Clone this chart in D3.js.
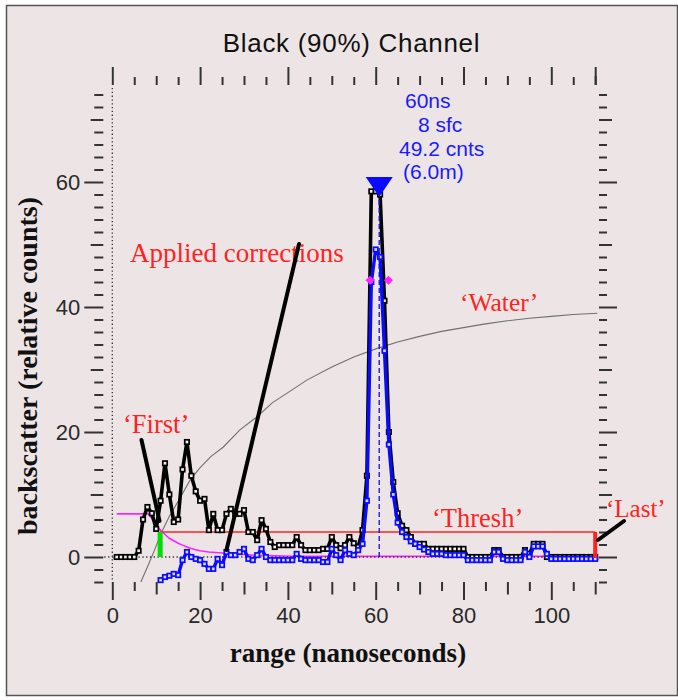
<!DOCTYPE html>
<html>
<head>
<meta charset="utf-8">
<script src="https://cdn.jsdelivr.net/npm/d3@7"></script>
<style>
  html, body { margin: 0; padding: 0; background: #ffffff; }
  svg { display: block; }
</style>
</head>
<body>
<svg id="chart" width="678" height="700"></svg>
<script>
// ---- data -------------------------------------------------------------
const chartTitle = "Black (90%) Channel";
const xTickLabels = [0, 20, 40, 60, 80, 100];
const yTickLabels = [0, 20, 40, 60];

// raw waveform, one sample per ns starting at 1 ns
const rawStartNs = 1;
const rawCounts = [
  0, 0, 0, 0, 0,        1, 6, 8, 7, 4.5,
  9, 15, 10, 5.6, 6,    14, 18.4, 13, 10.5, 9,
  9.3, 4.3, 6.9, 4.3, 4.3,  6.9, 7.7, 6.9, 6.9, 7.5,
  4, 4, 2.7, 5.9, 4.5,  2.4, 1.6, 1.9, 1.9, 1.9,
  1.9, 3.2, 1.9, 1.1, 1.1,  1.1, 1.1, 1.3, 1.3, 3.2,
  1.9, 1.4, 1.9, 3.2, 2.2,  1.6, 4.3, 13, 58.5, 58.5,
  58, 41, 20, 12, 7,    5, 4.3, 3.2, 2.1, 2.1,
  2.1, 1.3, 1.3, 1.3, 1.3,  1.3, 1.3, 1.3, 1.3, 1.3,
  0, 0, 0, 0, 0,        0, 1.1, 1.1, 0, 0,
  0, 0, 0, 1.1, 0.5,    2.1, 2.1, 2.1, 0, 0,
  0, 0, 0, 0, 0,        0, 0, 0, 0, 0
];

// corrected waveform, starting at the 'First' sample
const correctedStartNs = 11;
const correctedCounts = [
  -3.7, -3.2, -3.0, -2.7, -2.9,  -0.5, 0.8, 0, -0.3, -0.5,
  -1.1, -1.9, -1.9, -0.3, -1.3,  0.8, 0.3, 0.3, 0.8, 1.3,
  -0.3, -0.5, 0.3, 1.3, 0,       -0.5, -0.5, -0.5, -0.5, -0.5,
  -0.5, 0.5, -0.3, -0.5, -0.5,   -0.5, -0.5, -0.8, -0.8, 1.3,
  0.3, -0.5, 1.1, 0.5, 0.3,      1.1, 2.1, 9, 44, 49.2,
  48, 33, 18, 10, 5.5,           4, 3.2, 2.5, 2.1, 1.6,
  1.2, 0.8, 0.5, 0.5, 0.5,       0.3, 0.3, 0.3, 0.3, 0.3,
  -0.5, -0.5, -0.5, -0.5, -0.5,  -0.5, 0.8, 0.8, -0.3, -0.5,
  -0.5, -0.5, -0.5, 0.8, 0,      1.7, 1.7, 1.7, 0.5, -0.3,
  -0.3, -0.3, -0.3, -0.3, -0.3,  -0.3, -0.3, -0.3, -0.3, -0.3
];

// surface-return correction curve (magenta)
const surfaceNs =     [1, 8.2, 9, 10, 11, 12, 13, 14, 15, 16, 17, 18, 19, 20, 22, 25, 29, 33, 37, 41, 60, 110];
const surfaceCounts = [6.9, 6.9, 6.2, 5.0, 4.3, 3.6, 3.0, 2.6, 2.2, 1.9, 1.6, 1.35, 1.15, 1.0, 0.8, 0.65, 0.45, 0.27, 0.18, 0.12, 0.1, 0.1];

// water-column curve (gray)
const waterNs =     [6.5, 8, 9.5, 11.25, 13, 15.4, 17.7, 20, 22.5, 25.3, 29, 32.9, 36.5, 40, 44.3, 50, 55, 60, 65, 70, 75, 80, 85, 90, 95, 100, 105, 110.5];
const waterCounts = [-4, -1.6, 0.9, 4, 6.5, 9.4, 12.3, 14.3, 16.1, 17.6, 20.3, 22.4, 24.7, 26.3, 28.3, 30.4, 32, 33.3, 34.4, 35.3, 36.1, 36.7, 37.3, 37.8, 38.2, 38.5, 38.8, 39];

const threshCounts = 4;
const firstNs = 10.9;
const lastNs = 110;
const peakNs = 60.8;
const peakMarkerTop = 60.8;
const peakLineTop = 57.5;
const halfWidthNs = [58.7, 62.9];
const halfWidthCounts = 44.3;
const peakInfo = ["60ns", "8 sfc", "49.2 cnts", "(6.0m)"];

// ---- layout -----------------------------------------------------------
const SANS = "'Liberation Sans', Arial, Helvetica, sans-serif";
const SERIF = "'Liberation Serif', 'Times New Roman', Times, serif";
const BG = "#ede5e5";
const RED = "#ff2222";
const BLUE = "#0a0aff";

const svg = d3.select("#chart");

svg.append("rect")
  .attr("x", 6.5).attr("y", 5.5).attr("width", 671).attr("height", 690)
  .attr("fill", BG).attr("stroke", "#555").attr("stroke-width", 1.5);

const x = d3.scaleLinear().domain([0, 110]).range([112.3, 595.2]);
const y = d3.scaleLinear().domain([-4, 74]).range([582, 94.5]);

// ---- axes (three tick lengths on each side) ---------------------------
const yAll = d3.range(-4, 75, 2);
const yMinor = yAll.filter(v => v % 10 !== 0);
const yMid = yAll.filter(v => v % 10 === 0 && v % 20 !== 0);
const yMajor = yAll.filter(v => v % 20 === 0 && v >= 0);
const xAll = d3.range(0, 111, 5);
const xMinor = xAll.filter(v => v % 10 !== 0);
const xMid = xAll.filter(v => v % 10 === 0 && v % 20 !== 0);
const xMajor = xAll.filter(v => v % 20 === 0);

function styleAxis(g) {
  g.select(".domain").remove();
  g.selectAll(".tick line").attr("stroke", "#333").attr("stroke-width", 2);
  g.selectAll(".tick text")
    .attr("fill", "#2a2a2a")
    .style("font-family", SANS)
    .style("font-size", "22px");
}

function tickSet(axisFn, scale, values, size, labelled, pad) {
  const a = axisFn(scale).tickValues(values).tickSize(size).tickPadding(pad || 3);
  if (!labelled) a.tickFormat("");
  return a;
}

// left
const gl = svg.append("g").attr("transform", "translate(103.3,0)");
gl.append("g").call(tickSet(d3.axisLeft, y, yMinor, 9)).call(styleAxis);
gl.append("g").call(tickSet(d3.axisLeft, y, yMid, 12.6)).call(styleAxis);
gl.append("g").call(tickSet(d3.axisLeft, y, yTickLabels, 19, true, 4)).call(styleAxis);
// right
const gr = svg.append("g").attr("transform", "translate(599,0)");
gr.append("g").call(tickSet(d3.axisRight, y, yMinor, 8)).call(styleAxis);
gr.append("g").call(tickSet(d3.axisRight, y, yMid, 13)).call(styleAxis);
gr.append("g").call(tickSet(d3.axisRight, y, yMajor, 18)).call(styleAxis);
// bottom
const gb = svg.append("g").attr("transform", "translate(0,582)");
gb.append("g").call(tickSet(d3.axisBottom, x, xMinor, 9)).call(styleAxis);
gb.append("g").call(tickSet(d3.axisBottom, x, xMid, 12.5)).call(styleAxis);
gb.append("g").call(tickSet(d3.axisBottom, x, xTickLabels, 18, true, 7.4)).call(styleAxis);
// top
const gt = svg.append("g").attr("transform", "translate(0,85)");
gt.append("g").call(tickSet(d3.axisTop, x, xMinor, 8)).call(styleAxis);
gt.append("g").call(tickSet(d3.axisTop, x, xMid, 9)).call(styleAxis);
gt.append("g").call(tickSet(d3.axisTop, x, xMajor.concat([110]), 18)).call(styleAxis);

// dotted zero lines
svg.append("line")
  .attr("x1", x(0)).attr("x2", x(0)).attr("y1", 88).attr("y2", y(-4))
  .attr("stroke", "#333").attr("stroke-width", 1.3).attr("stroke-dasharray", "1.3,2.5");

// ---- curves -----------------------------------------------------------
const line = d3.line().x(d => x(d[0])).y(d => y(d[1]));

const surfacePts = surfaceNs.map((n, i) => [n, surfaceCounts[i]]);
const waterPts = waterNs.map((n, i) => [n, waterCounts[i]]);
const rawPts = rawCounts.map((v, i) => [rawStartNs + i, v]);
const corrPts = correctedCounts.map((v, i) => [correctedStartNs + i, v]);

svg.append("path").datum(waterPts).attr("d", line)
  .attr("fill", "none").attr("stroke", "#707070").attr("stroke-width", 1.1);

svg.append("path").datum(surfacePts).attr("d", line)
  .attr("fill", "none").attr("stroke", "#ff22ff").attr("stroke-width", 1.6);

// threshold line
svg.append("line")
  .attr("x1", x(firstNs)).attr("x2", x(lastNs))
  .attr("y1", y(threshCounts)).attr("y2", y(threshCounts))
  .attr("stroke", RED).attr("stroke-width", 1.6);

svg.append("line")
  .attr("x1", x(0) - 8).attr("x2", x(110) + 3).attr("y1", y(0)).attr("y2", y(0))
  .attr("stroke", "#333").attr("stroke-width", 1.3).attr("stroke-dasharray", "1.3,2.5");

// raw waveform: heavy line with small hollow squares at each sample
svg.append("path").datum(rawPts).attr("d", line)
  .attr("fill", "none").attr("stroke", "#000").attr("stroke-width", 3.6)
  .attr("stroke-linejoin", "round");
svg.append("g").selectAll("rect").data(rawPts).join("rect")
  .attr("x", d => x(d[0]) - 2.2).attr("y", d => y(d[1]) - 2.2)
  .attr("width", 4.4).attr("height", 4.4)
  .attr("fill", "#f4eeee").attr("stroke", "#000").attr("stroke-width", 1.7);

// corrected waveform
svg.append("path").datum(corrPts).attr("d", line)
  .attr("fill", "none").attr("stroke", BLUE).attr("stroke-width", 3.4)
  .attr("stroke-linejoin", "round");
svg.append("g").selectAll("rect").data(corrPts).join("rect")
  .attr("x", d => x(d[0]) - 2.2).attr("y", d => y(d[1]) - 2.2)
  .attr("width", 4.4).attr("height", 4.4)
  .attr("fill", "#d6d6ff").attr("stroke", BLUE).attr("stroke-width", 1.7);

// 'First' and 'Last' markers
svg.append("line")
  .attr("x1", x(firstNs)).attr("x2", x(firstNs)).attr("y1", y(0)).attr("y2", y(threshCounts))
  .attr("stroke", "#00dd00").attr("stroke-width", 5);
svg.append("line")
  .attr("x1", x(lastNs)).attr("x2", x(lastNs)).attr("y1", y(0) + 1).attr("y2", y(threshCounts))
  .attr("stroke", RED).attr("stroke-width", 4);

// peak marker, dashed drop line and half-width diamonds
svg.append("line")
  .attr("x1", x(peakNs)).attr("x2", x(peakNs)).attr("y1", y(0)).attr("y2", y(peakLineTop))
  .attr("stroke", BLUE).attr("stroke-width", 1.3).attr("stroke-dasharray", "5,3");
const px = x(peakNs), pt = y(peakMarkerTop);
svg.append("path")
  .attr("d", `M${px - 13.5},${pt}L${px + 13.5},${pt}L${px},${pt + 20}Z`)
  .attr("fill", BLUE);
svg.append("g").selectAll("path").data(halfWidthNs).join("path")
  .attr("transform", d => `translate(${x(d)},${y(halfWidthCounts)})`)
  .attr("d", "M0,-4.5L4.5,0L0,4.5L-4.5,0Z")
  .attr("fill", "#ff22ff");

// ---- text -------------------------------------------------------------
svg.append("text")
  .attr("x", 351.5).attr("y", 52.3).attr("text-anchor", "middle")
  .style("font-family", SANS).style("font-size", "26px").style("letter-spacing", "0.7px")
  .attr("fill", "#111").text(chartTitle);

const infoX = [405, 418, 399, 403];
const infoY = [108, 132, 156, 179];
svg.append("g").selectAll("text").data(peakInfo).join("text")
  .attr("x", (d, i) => infoX[i]).attr("y", (d, i) => infoY[i])
  .style("font-family", SANS).style("font-size", "21px")
  .attr("fill", "#1a1aff").text(d => d);

function redLabel(txt, lx, ly, size) {
  svg.append("text").attr("x", lx).attr("y", ly)
    .style("font-family", SERIF).style("font-size", (size || 26.5) + "px")
    .attr("fill", RED).text(txt);
}
redLabel("Applied corrections", 130, 262, 27);
redLabel("\u2018First\u2019", 123, 433);
redLabel("\u2018Water\u2019", 460, 311, 25.5);
redLabel("\u2018Thresh\u2019", 432, 527);
redLabel("\u2018Last\u2019", 606, 517, 25);

// pointers
const pointers = [
  [[299, 244], [226.5, 550]],
  [[141.5, 440], [159.5, 521]],
  [[624, 521], [598, 540]]
];
svg.append("g").selectAll("line").data(pointers).join("line")
  .attr("x1", d => d[0][0]).attr("y1", d => d[0][1])
  .attr("x2", d => d[1][0]).attr("y2", d => d[1][1])
  .attr("stroke", "#000").attr("stroke-width", 4).attr("stroke-linecap", "round");

// axis titles
svg.append("text")
  .attr("x", 348).attr("y", 662).attr("text-anchor", "middle")
  .style("font-family", SERIF).style("font-size", "27px").style("font-weight", "bold")
  .attr("fill", "#111").text("range (nanoseconds)");
svg.append("text")
  .attr("transform", "translate(37,366) rotate(-90)").attr("text-anchor", "middle")
  .style("font-family", SERIF).style("font-size", "28px").style("font-weight", "bold")
  .attr("fill", "#111").text("backscatter (relative counts)");
</script>
</body>
</html>
